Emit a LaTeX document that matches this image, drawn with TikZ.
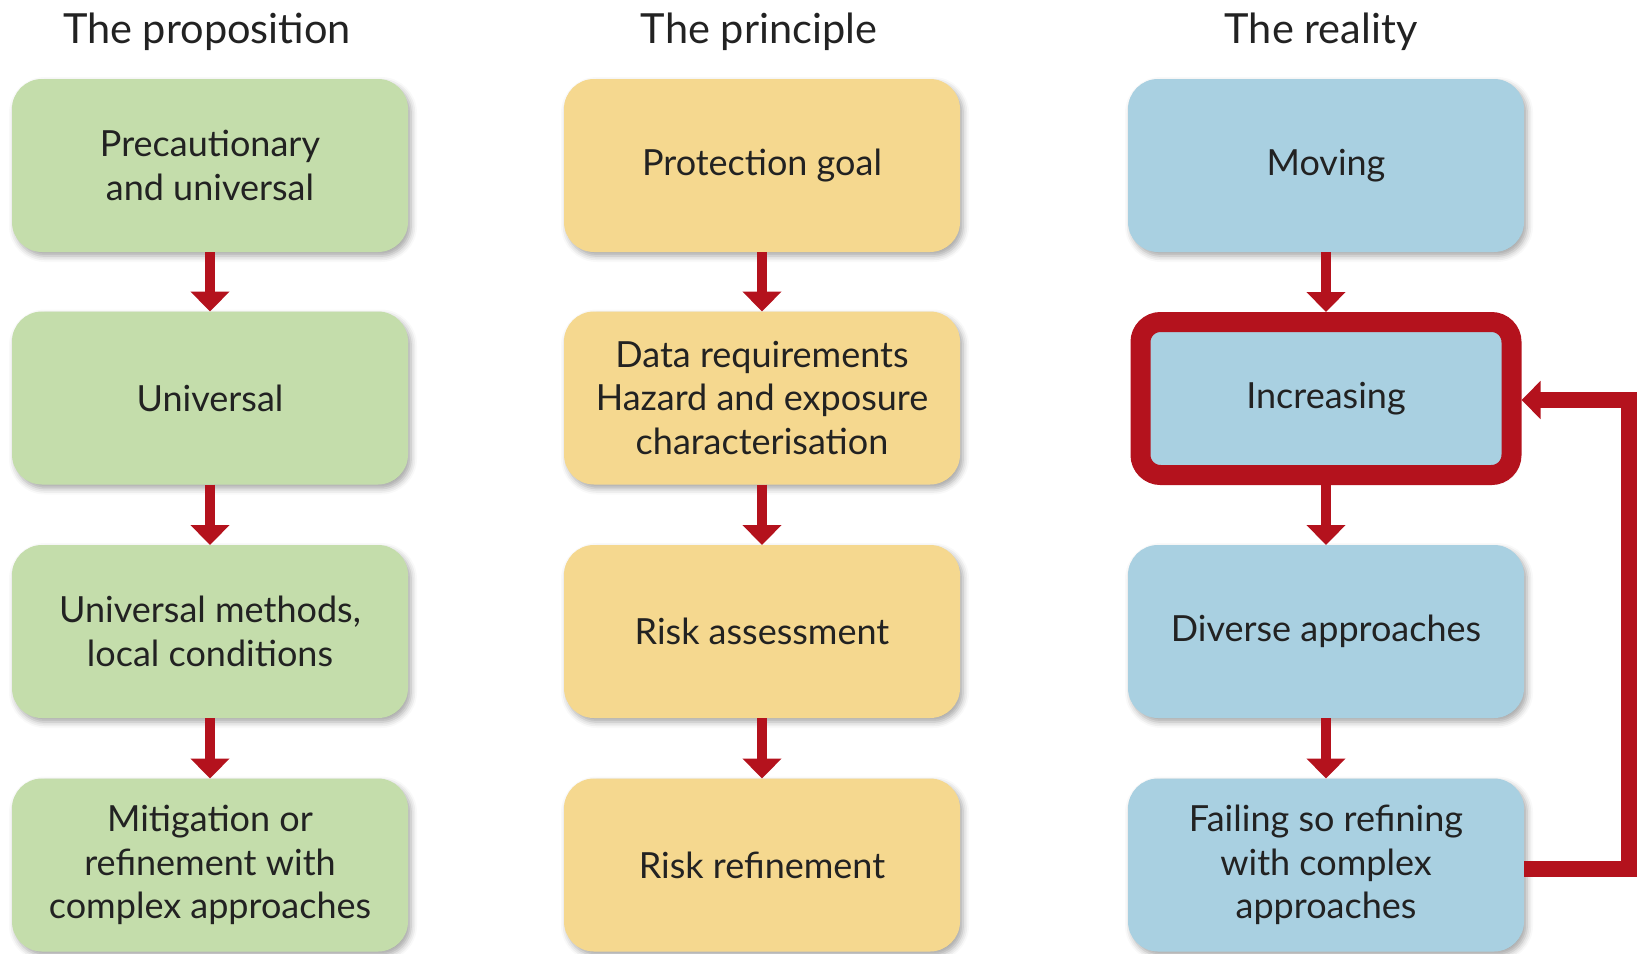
\documentclass[tikz,border=0pt]{standalone}
\usepackage{fontspec}
\setmainfont{Lato}
\usetikzlibrary{arrows.meta,shadows.blur}
\definecolor{cgreen}{RGB}{196,221,171}
\definecolor{cyellow}{RGB}{245,216,143}
\definecolor{cblue}{RGB}{169,208,225}
\definecolor{cred}{RGB}{180,18,29}
\definecolor{txt}{RGB}{34,34,34}
\begin{document}
\begin{tikzpicture}[x=1pt,y=-1pt,
  box/.style={rounded corners=30pt, minimum width=396pt, minimum height=173pt, inner sep=0pt, outer sep=0pt,
    align=center, font=\fontsize{36}{43.5}\selectfont, text=txt,
    blur shadow={shadow xshift=3pt,shadow yshift=-4pt,shadow blur radius=6pt,shadow opacity=35}},
  gbox/.style={box, fill=cgreen},
  ybox/.style={box, fill=cyellow},
  bbox/.style={box, fill=cblue},
  down/.style={draw=cred, line width=10pt, -{Triangle[width=38pt,length=20pt]}},
  back/.style={draw=cred, line width=16pt, -{Triangle[width=37pt,length=19pt]}},
  hdr/.style={anchor=base, font=\fontsize{41.5}{50}\selectfont, text=txt}]
\useasboundingbox (0,0) rectangle (1637,953);

\node[hdr] (h1) at (207,43) {The proposition};
\node[hdr] (h2) at (759,43) {The principle};
\node[hdr] (h3) at (1321,43) {The reality};

\node[gbox] (a1) at (210,165.5) {Precautionary\\and universal};
\node[gbox] (a2) at (210,398) {Universal};
\node[gbox] (a3) at (210,631.5) {Universal methods,\\local conditions};
\node[gbox] (a4) at (210,865) {Mitigation or\\refinement with\\complex approaches};

\node[ybox] (b1) at (762,165.5) {Protection goal};
\node[ybox] (b2) at (762,398) {Data requirements\\Hazard and exposure\\characterisation};
\node[ybox] (b3) at (762,631.5) {Risk assessment};
\node[ybox] (b4) at (762,865) {Risk refinement};

\node[bbox] (c1) at (1326,165.5) {Moving};
\node[bbox, minimum width=371pt, minimum height=153pt, rounded corners=20pt, draw=cred, line width=20pt, outer sep=10pt] (c2) at (1326,398.5) {Increasing};
\node[bbox] (c3) at (1326,631.5) {Diverse approaches};
\node[bbox] (c4) at (1326,865) {Failing so refining\\with complex\\approaches};

\foreach \c in {a,b,c}{
  \draw[down] (\c1.south) -- (\c2.north);
  \draw[down] (\c2.south) -- (\c3.north);
  \draw[down] (\c3.south) -- (\c4.north);
}
\coordinate (k1) at (1629,869);
\coordinate (k2) at (1629,400);
\draw[back] ([yshift=-4pt]c4.east) -- (k1) -- (k2) -- ([yshift=-1.5pt]c2.east);
\end{tikzpicture}
\end{document}
